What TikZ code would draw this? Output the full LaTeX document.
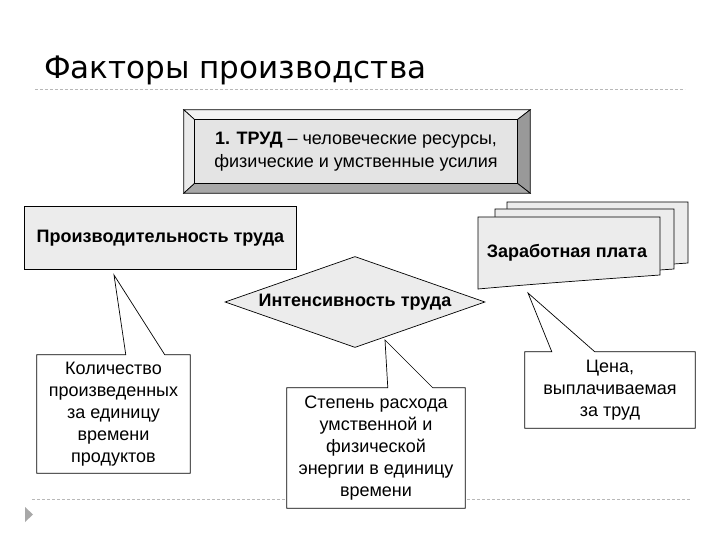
\documentclass[tikz,border=0pt]{standalone}
\usepackage{fontspec}
\setmainfont{Liberation Sans}
\newfontfamily\titlefont{DejaVu Sans}
\usetikzlibrary{shapes.geometric,calc}
\pgfdeclarelayer{background}
\pgfsetlayers{background,main}
\definecolor{facegray}{HTML}{E4E4E4}
\definecolor{boxgray}{HTML}{ECECEC}
\definecolor{bevlight}{HTML}{F2F2F2}
\definecolor{bevleft}{HTML}{EAEAEA}
\definecolor{bevright}{HTML}{999999}
\definecolor{bevbottom}{HTML}{A8A8A8}
\definecolor{rulegray}{HTML}{B8B8B8}
\definecolor{markgray}{HTML}{A8A8A8}
\tikzset{
  txt/.style={inner sep=0pt, align=center, font=\fontsize{18}{22}\selectfont},
  outline/.style={draw=black, line width=0.7pt, line join=miter},
  rulestyle/.style={draw=rulegray, dash pattern=on 3pt off 2pt, line width=0.8pt},
}
\begin{document}
\begin{tikzpicture}[x=1pt,y=-1pt]
\useasboundingbox (0,0) rectangle (720,540);

% title
\node[anchor=base west, inner sep=0pt, font=\titlefont\fontsize{31}{33}\selectfont] (title) at (44,79) {Факторы производства};

% main texts
\node[txt, font=\fontsize{18}{23.5}\selectfont, minimum width=322, minimum height=63] (trud) at (356,151.5) {\textbf{1. ТРУД} – человеческие ресурсы,\\физические и умственные усилия};
\node[txt, minimum width=271, minimum height=62] (prod) at (160.5,238) {\textbf{Производительность труда}};
\node[txt] (inttext) at (355,302) {\textbf{Интенсивность труда}};
\node[txt] (wage) at (567,253) {\textbf{Заработная плата}};

\node[txt, minimum width=153, minimum height=118] (qty) at (113.5,414) {Количество\\произведенных\\за единицу\\времени\\продуктов};
\node[txt, minimum width=178, minimum height=120] (deg) at (376,448) {Степень расхода\\умственной и\\физической\\энергии в единицу\\времени};
\node[txt, minimum width=170, minimum height=76] (price) at (610,390) {Цена,\\выплачиваемая\\за труд};

\coordinate (qtytip) at (114,275);
\coordinate (degtip) at (385,340);
\coordinate (pricetip) at (528,293);

\begin{pgfonlayer}{background}
  \fill[white] (0,0) rectangle (720,540);
  % rules
  \draw[rulestyle] (35,89) -- (685,89);
  \draw[rulestyle] (32,499) -- (690,499);
  \fill[markgray] (25,507) -- (33,514.5) -- (25,522) -- cycle;

  % bevel box
  \path (trud.north west) ++(-11,-10) coordinate (otl);
  \path (trud.north east) ++(13,-10) coordinate (otr);
  \path (trud.south east) ++(13,10) coordinate (obr);
  \path (trud.south west) ++(-11,10) coordinate (obl);
  \filldraw[fill=bevlight, outline] (otl) -- (otr) -- (trud.north east) -- (trud.north west) -- cycle;
  \filldraw[fill=bevleft, outline] (otl) -- (trud.north west) -- (trud.south west) -- (obl) -- cycle;
  \filldraw[fill=bevright, outline] (otr) -- (obr) -- (trud.south east) -- (trud.north east) -- cycle;
  \filldraw[fill=bevbottom, outline] (obl) -- (trud.south west) -- (trud.south east) -- (obr) -- cycle;
  \filldraw[fill=facegray, outline] (trud.north west) rectangle (trud.south east);

  % productivity box
  \filldraw[fill=boxgray, outline] (prod.north west) rectangle (prod.south east);

  % diamond
  \node[diamond, outline, fill=boxgray, aspect=2.857, inner sep=0pt, minimum width=260, minimum height=91] (int) at (inttext) {};

  % wage multi-document
  \filldraw[fill=boxgray, outline] (507,202) -- (688,202) -- (688,263) .. controls (630,267) and (570,272) .. (507,278) -- cycle;
  \filldraw[fill=boxgray, outline] (495,209) -- (674,209) -- (674,269) .. controls (616,273) and (556,278) .. (495,284) -- cycle;
  \filldraw[fill=boxgray, outline] (478,217) -- (660,217) -- (660,275) .. controls (605,279) and (545,283) .. (478,289) -- cycle;

  % callouts
  \filldraw[fill=white, outline] (qty.north west) -- ($(qty.north west)+(89,0)$) -- (qtytip) -- ($(qty.north west)+(128,0)$) -- (qty.north east) -- (qty.south east) -- (qty.south west) -- cycle;
  \filldraw[fill=white, outline] (deg.north west) -- ($(deg.north west)+(101,0)$) -- (degtip) -- ($(deg.north west)+(146,0)$) -- (deg.north east) -- (deg.south east) -- (deg.south west) -- cycle;
  \filldraw[fill=white, outline] (price.north west) -- ($(price.north west)+(27,0)$) -- (pricetip) -- ($(price.north west)+(70,0)$) -- (price.north east) -- (price.south east) -- (price.south west) -- cycle;
\end{pgfonlayer}
\end{tikzpicture}
\end{document}
